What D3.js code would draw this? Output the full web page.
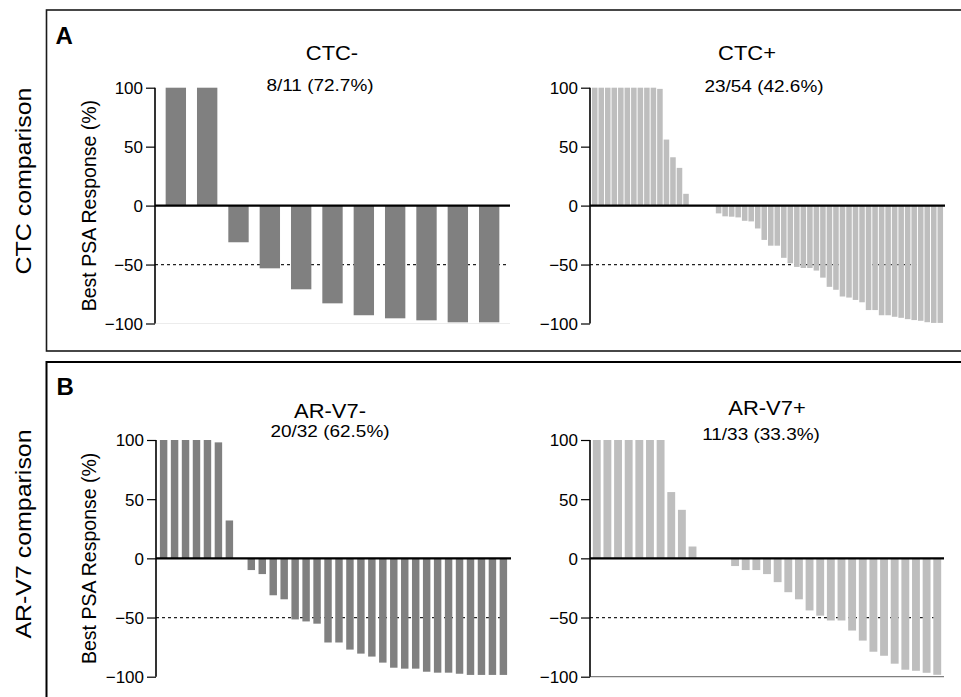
<!DOCTYPE html>
<html>
<head>
<meta charset="utf-8">
<script src="https://cdn.jsdelivr.net/npm/d3@7"></script>
<style>
  html, body { margin: 0; padding: 0; background: #fff; }
  svg { display: block; }
  text { font-family: "Liberation Sans", Arial, sans-serif; fill: #000; }
</style>
</head>
<body>
<svg id="chart" width="961" height="697"></svg>
<script>
// ---------- data ----------
const panelTitles = ["CTC-", "CTC+", "AR-V7-", "AR-V7+"];
const panelSubtitles = ["8/11 (72.7%)", "23/54 (42.6%)", "20/32 (62.5%)", "11/33 (33.3%)"];
const rowLabels = ["CTC comparison", "AR-V7 comparison"];
const rowLetters = ["A", "B"];
const yLabel = "Best PSA Response (%)";
const yTicks = [-100, -50, 0, 50, 100];
const responseThreshold = -50;

const ctcNegValues = [100, 100, -31.1, -53.2, -71, -82.9, -93, -95.6, -97.3, -99, -99];
const ctcPosValues = [100, 100, 100, 100, 100, 100, 100, 100, 100, 100, 99, 56, 41, 32, 10,
  0, 0, 0, 0,
  -6.6, -9.1, -9.4, -10, -12.9, -13.4, -19.4, -29.1, -34, -34, -44.3, -48.9,
  -52, -52.9, -52.9, -55.1, -61.1, -68.9, -71.4, -77.1, -78, -80, -82, -88.6, -88.6,
  -93, -93, -94.3, -95.2, -96.3, -97.1, -97.7, -98.9, -99.5, -99.5];
const arv7NegValues = [100, 100, 100, 100, 100, 98, 32, 0,
  -9.9, -13.3, -31.2, -34.6, -51.6, -53.3, -55.2, -71.1, -71.1, -77.1, -80.5, -83,
  -88.1, -92.4, -93.2, -93.2, -95.8, -96.6, -96.6, -97.5, -98.5, -98.5, -98.5, -98.5];
const arv7PosValues = [100, 100, 100, 100, 100, 100, 100, 56, 41, 10, 0, 0, 0,
  -6.5, -9.9, -9.9, -13.3, -20.1, -28.6, -34.6, -44, -48.4, -52.5, -52.5, -61,
  -69.5, -78.9, -82.3, -89, -94.1, -95, -96.7, -98.4];

const seriesValues = [ctcNegValues, ctcPosValues, arv7NegValues, arv7PosValues];

// ---------- layout (positions / styles) ----------
const svg = d3.select("#chart");
const DARK = "#808080", LIGHT = "#bebebe";

const layout = [
  { x: [155, 510], y: [323.5, 87.7], pi: 0.35, po: 0.34, color: DARK,
    title: [332, 60], sub: [320, 91], base: "#ececec", dashEnd: 507 },
  { x: [590, 945], y: [323.5, 87.7], pi: 0.15, po: 0.30, color: LIGHT,
    title: [747, 60], sub: [764, 92], base: null, dashEnd: 930 },
  { x: [156, 511], y: [676.7, 440], pi: 0.32, po: 0.355, color: DARK,
    title: [330, 418], sub: [330, 437], base: null, dashEnd: 507 },
  { x: [590, 944], y: [676.7, 440], pi: 0.26, po: 0.265, color: LIGHT,
    title: [767, 415], sub: [761, 440], base: "#808080", dashEnd: 941 }
];

function label(g, x, y, str, o) {
  o = o || {};
  return g.append("text")
    .attr("transform", `translate(${x},${y}) rotate(${o.rot || 0}) scale(${o.sx || 1},1)`)
    .attr("text-anchor", o.anchor || "middle")
    .style("font-size", (o.size || 16) + "px")
    .style("font-weight", o.weight || "normal")
    .text(str);
}

// ---------- outer boxes ----------
svg.append("rect").attr("x", 46.5).attr("y", 10).attr("width", 940).attr("height", 341)
  .attr("fill", "none").attr("stroke", "#1a1a1a").attr("stroke-width", 1.6);
svg.append("rect").attr("x", 46.5).attr("y", 362).attr("width", 940).attr("height", 400)
  .attr("fill", "none").attr("stroke", "#000").attr("stroke-width", 2);

// row letters + row labels
label(svg, 55.5, 43.5, rowLetters[0], { anchor: "start", size: 24, weight: "bold" });
label(svg, 56.5, 395, rowLetters[1], { anchor: "start", size: 24, weight: "bold" });
label(svg, 30.5, 181, rowLabels[0], { rot: -90, sx: 1.16, size: 21.5 });
label(svg, 30.5, 534, rowLabels[1], { rot: -90, sx: 1.16, size: 21.5 });

// ---------- panels ----------
seriesValues.forEach((vals, i) => {
  const L = layout[i];
  const g = svg.append("g");
  const x = d3.scaleBand().domain(d3.range(vals.length)).range(L.x)
    .paddingInner(L.pi).paddingOuter(L.po);
  const y = d3.scaleLinear().domain([-100, 100]).range(L.y);

  if (L.base) {
    g.append("line").attr("x1", L.x[0]).attr("x2", L.x[1])
      .attr("y1", y(-100)).attr("y2", y(-100))
      .attr("stroke", L.base).attr("stroke-width", 1.2);
  }

  g.append("line").attr("x1", L.x[0]).attr("x2", L.dashEnd)
    .attr("y1", y(responseThreshold)).attr("y2", y(responseThreshold))
    .attr("stroke", "#222").attr("stroke-width", 1.2).attr("stroke-dasharray", "3,3");

  g.selectAll("rect.bar").data(vals).enter().append("rect")
    .attr("class", "bar")
    .attr("x", (d, j) => x(j))
    .attr("width", x.bandwidth())
    .attr("y", d => y(Math.max(0, d)))
    .attr("height", d => Math.abs(y(d) - y(0)))
    .attr("fill", L.color);

  g.append("line").attr("x1", L.x[0]).attr("x2", L.x[1])
    .attr("y1", y(0)).attr("y2", y(0))
    .attr("stroke", "#000").attr("stroke-width", 2.2);

  const axis = g.append("g").attr("transform", `translate(${L.x[0]},0)`)
    .call(d3.axisLeft(y).tickValues(yTicks).tickSize(9).tickPadding(3).tickFormat(d3.format("d")));
  axis.select(".domain").attr("stroke", "#000").attr("stroke-width", 1.6)
    .attr("d", `M0,${y(100)}V${y(-100)}`);
  axis.selectAll(".tick line").attr("stroke", "#000").attr("stroke-width", 1.2);
  axis.selectAll(".tick text").style("font-size", "17px")
    .style("font-family", '"Liberation Sans", Arial, sans-serif').attr("fill", "#000")
    .attr("dy", "0.35em");

  label(g, L.title[0], L.title[1], panelTitles[i], { size: 20.5, sx: 1.07 });
  label(g, L.sub[0], L.sub[1], panelSubtitles[i], { size: 16.5, sx: 1.15 });

  if (i % 2 === 0) {
    label(g, 96, y(0), yLabel, { rot: -90, size: 19.5 });
  }
});
</script>
</body>
</html>
